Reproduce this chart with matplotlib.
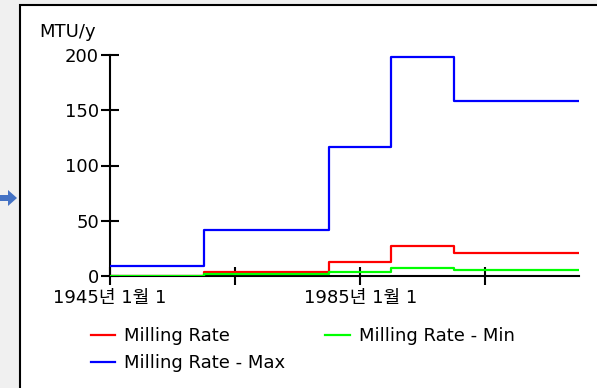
import matplotlib.pyplot as plt
from matplotlib.patches import Polygon, Rectangle

plt.rcParams["font.family"] = ["DejaVu Sans", "Noto Sans CJK KR"]

# step start years, last entry is the end of the axis
YEARS = [1945, 1960, 1980, 1990, 2000, 2020]
RATE = [0, 3.3, 13, 27, 20.5, 20.5]
RATE_MIN = [0, 1.5, 4, 7, 5.5, 5.5]
RATE_MAX = [9, 42, 117, 198, 158, 158]

X_TICKS = [1945, 1965, 1985, 2005]
X_LABELS = ["1945년 1월 1", "", "1985년 1월 1", ""]
Y_TICKS = [0, 50, 100, 150, 200]

W, H = 597, 388
fig = plt.figure(figsize=(W / 100, H / 100), dpi=100)
fig.patch.set_facecolor("#f0f0f0")

# white panel with a black frame, plus the little blue arrow on the left
fig.patches.append(Rectangle((20 / W, -0.05), 1.1, 1 - 5 / H + 0.05,
                             transform=fig.transFigure, facecolor="white",
                             edgecolor="black", linewidth=1.5, zorder=-2))
arrow = [(0, 195), (8, 195), (8, 190), (17, 198), (8, 206), (8, 201), (0, 201)]
fig.patches.append(Polygon([(x / W, 1 - y / H) for x, y in arrow], closed=True,
                           transform=fig.transFigure, facecolor="#4472c4",
                           edgecolor="none", zorder=-1))

ax = fig.add_axes([110 / W, 1 - 276 / H, (579 - 110) / W, (276 - 55) / H])
ax.set_facecolor("none")

ax.step(YEARS, RATE_MAX, where="post", color="#0000ff", lw=1.6, label="Milling Rate - Max")
ax.step(YEARS, RATE, where="post", color="#ff0000", lw=1.6, label="Milling Rate")
ax.step(YEARS, RATE_MIN, where="post", color="#00ff00", lw=1.6, label="Milling Rate - Min")

ax.set_xlim(1945, 2020)
ax.set_ylim(0, 200)
ax.set_xticks(X_TICKS)
ax.set_xticklabels(X_LABELS)
ax.set_yticks(Y_TICKS)

for side in ["top", "right"]:
    ax.spines[side].set_visible(False)
for side in ["left", "bottom"]:
    ax.spines[side].set_linewidth(1.5)
    ax.spines[side].set_zorder(0.5)
ax.tick_params(direction="inout", length=13, width=1.5, labelsize=13, colors="black")
ax.tick_params(axis="y", pad=1.5)
ax.tick_params(axis="x", pad=2.5)

fig.text(96 / W, 1 - 32 / H, "MTU/y", ha="right", va="center", fontsize=13)

h, l = ax.get_legend_handles_labels()
order = [1, 0, 2]
fig.legend([h[i] for i in order], [l[i] for i in order], ncol=2,
           loc="upper left", bbox_to_anchor=(91 / W, 1 - 327 / H),
           frameon=False, fontsize=13, handlelength=1.35, handletextpad=0.5,
           columnspacing=2.2, labelspacing=0.5, borderpad=0, borderaxespad=0)

fig.savefig("out.png", dpi=100, facecolor=fig.get_facecolor())
